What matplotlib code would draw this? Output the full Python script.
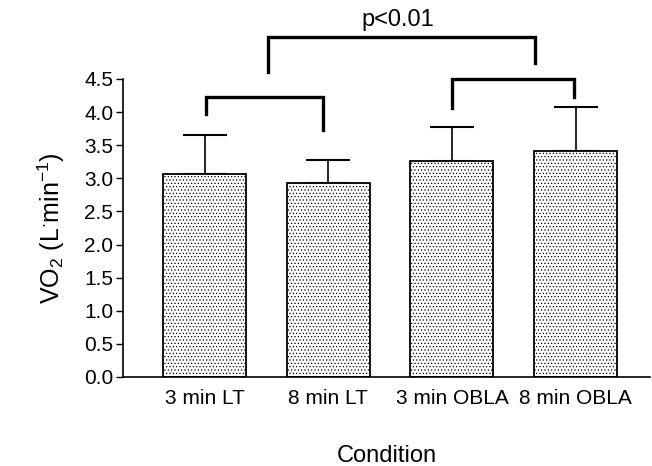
import numpy as np
import matplotlib
matplotlib.use("Agg")
import matplotlib.pyplot as plt

# bar data
conditions = ["3 min LT", "8 min LT", "3 min OBLA", "8 min OBLA"]
means = [3.06, 2.93, 3.26, 3.41]
sd = [0.59, 0.35, 0.52, 0.67]

# significance brackets: (x left, x right, y top, left leg bottom, right leg bottom)
brackets = [
    (0.01, 0.96, 4.23, 3.97, 3.73),
    (2.00, 2.99, 4.50, 4.06, 4.23),
    (0.51, 2.67, 5.14, 4.61, 4.74),
]
p_label = "p<0.01"

plt.rcParams['font.family'] = ['Liberation Sans', 'DejaVu Sans']
plt.rcParams['mathtext.fontset'] = 'custom'
plt.rcParams['mathtext.rm'] = 'Liberation Sans'
plt.rcParams['mathtext.it'] = 'Liberation Sans:italic'
plt.rcParams['mathtext.bf'] = 'Liberation Sans:bold'
plt.rcParams['hatch.color'] = '#9a9a9a'
plt.rcParams['hatch.linewidth'] = 0.5

fig = plt.figure(figsize=(6.52, 4.66), dpi=100)
ax = fig.add_axes([0.1887, 0.191, 0.808, 0.6395])

x = np.arange(len(conditions))
ax.bar(x, means, width=0.67, color='white', edgecolor='black', linewidth=1.3,
       hatch='.....', zorder=2)
ax.errorbar(x, means, yerr=[np.zeros(len(sd)), sd], fmt='none', ecolor='black',
            elinewidth=1.2, capsize=15.5, capthick=1.5, zorder=1)

for xl, xr, top, bl, br in brackets:
    ax.plot([xl, xl, xr, xr], [bl, top, top, br], color='black', lw=2.4,
            clip_on=False, solid_joinstyle='miter')
ax.text(1.56, 5.39, p_label, ha='center', va='center', fontsize=17)

ax.set_xlim(-0.659, 3.60)
ax.set_ylim(0, 4.5)
ax.set_yticks(np.arange(0, 4.51, 0.5))
ax.set_yticklabels([f"{v:.1f}" for v in np.arange(0, 4.51, 0.5)])
ax.set_xticks(x)
ax.set_xticklabels(conditions)
ax.tick_params(axis='x', length=0, pad=9, labelsize=15)
ax.tick_params(axis='y', length=5, width=1, labelsize=15, pad=2)
ax.spines['top'].set_visible(False)
ax.spines['right'].set_visible(False)
ax.spines['left'].set_linewidth(1.2)
ax.spines['bottom'].set_linewidth(1.2)

ax.set_xlabel("Condition", fontsize=17, labelpad=26)
ax.set_ylabel(r"VO$_2$ (L$^{\cdot}$min$^{-1}$)", fontsize=18, labelpad=12)

fig.savefig("out.png", dpi=100)
